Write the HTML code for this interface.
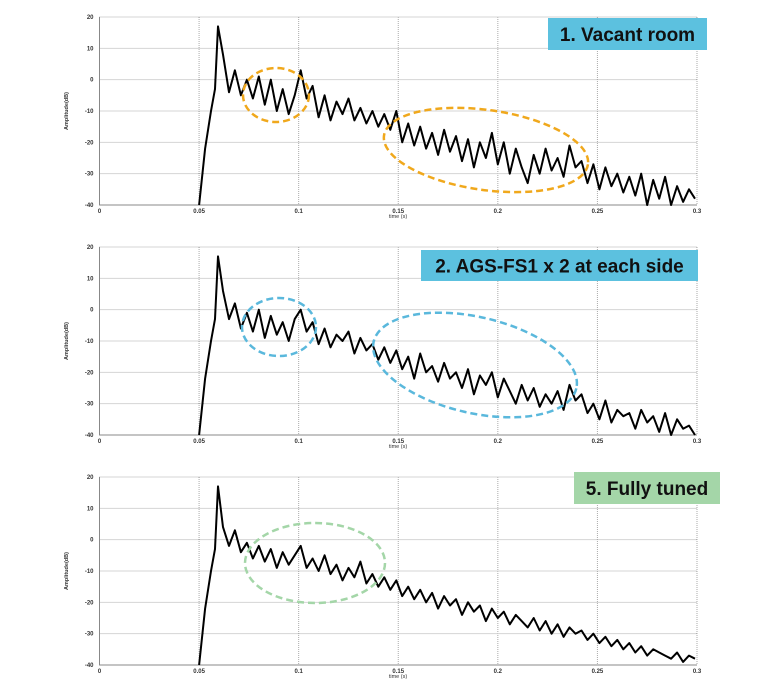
<!DOCTYPE html>
<html><head><meta charset="utf-8"><style>
body{margin:0;background:#fff;width:769px;height:691px;overflow:hidden}
svg{display:block}
</style></head><body>
<svg id="c" width="769" height="691" xmlns="http://www.w3.org/2000/svg"></svg>
<script>
const xTicks=[0,0.05,0.1,0.15,0.2,0.25,0.3];
const xTickLabels=["0","0.05","0.1","0.15","0.2","0.25","0.3"];
const yTicks=[20,10,0,-10,-20,-30,-40];
const riseTimes=[0.05,0.053,0.056,0.058,0.0595];
const riseValues=[-40,-22,-10,-3,17];
const tailStart=0.062, tailStep=0.003;
const series1=[8,-4,3,-5,0,-6,1,-8,0,-10,-3,-11,-5,3,-6,-2,-12,-5,-13,-7,-11,-6,-13,-9,-14,-10,-15,-11,-16,-10,-20,-14,-21,-15,-22,-17,-24,-16,-23,-18,-26,-19,-28,-20,-25,-17,-27,-20,-30,-22,-28,-33,-24,-30,-22,-29,-25,-31,-21,-28,-26,-33,-27,-35,-28,-34,-30,-36,-31,-37,-30,-40,-32,-38,-31,-40,-34,-39,-35,-38];
const series2=[6,-3,2,-6,-1,-7,0,-9,-2,-8,-4,-10,-3,0,-7,-4,-11,-6,-12,-8,-10,-7,-14,-9,-13,-11,-16,-12,-17,-13,-19,-15,-22,-14,-20,-18,-23,-17,-22,-20,-25,-19,-27,-21,-24,-20,-28,-22,-26,-30,-24,-29,-25,-31,-27,-30,-26,-32,-24,-29,-27,-33,-30,-35,-29,-36,-32,-34,-33,-38,-32,-36,-34,-39,-33,-40,-35,-38,-37,-40];
const series3=[4,-2,3,-4,-1,-6,-2,-7,-3,-9,-4,-8,-5,-2,-9,-6,-10,-5,-11,-8,-13,-9,-12,-7,-14,-11,-15,-12,-16,-13,-18,-15,-19,-16,-20,-17,-22,-18,-21,-19,-24,-20,-23,-21,-26,-22,-25,-23,-27,-24,-26,-28,-25,-29,-26,-30,-27,-31,-28,-30,-29,-32,-30,-33,-31,-34,-32,-35,-33,-36,-34,-37,-35,-36,-37,-38,-36,-39,-37,-38];
const panels=[
 {off:0,data:series1,label:"1. Vacant room",box:[548,18,159,32],fill:"#5cc1df",ell:[[276,95,33,27,0,"#f0a81c"],[486,150,103,40,8,"#f0a81c"]]},
 {off:230,data:series2,label:"2. AGS-FS1 x 2 at each side",box:[421,250,277,31],fill:"#5cc1df",ell:[[279,327,37,29,0,"#5ab8dc"],[475,365,104,48,13,"#5ab8dc"]]},
 {off:460,data:series3,label:"5. Fully tuned",box:[574,472,146,32],fill:"#a4d6a8",ell:[[315,563,70,40,0,"#a4d6a8"]]}
];
const svg=document.getElementById('c');
const NS="http://www.w3.org/2000/svg";
function mk(tag,attrs,parent){const e=document.createElementNS(NS,tag);for(const k in attrs)e.setAttribute(k,attrs[k]);(parent||svg).appendChild(e);return e;}
const X0=99.5,X1=697,YT=17,YB=205;
const xs=t=>X0+(t/0.3)*(X1-X0);
panels.forEach((p,pi)=>{
 const ys=v=>p.off+YT+(20-v)/60*(YB-YT);
 const g=mk('g',{});
 
 
 yTicks.forEach(v=>{
  const l=mk('line',{x1:X0,x2:X1,y1:ys(v),y2:ys(v),stroke:'#aaa','stroke-width':1,'stroke-dasharray':'1,1'},g);
  
  
  const t=mk('text',{x:X0-6,y:ys(v)+2,'font-size':6,'text-anchor':'end','font-family':'Liberation Sans, sans-serif','font-weight':'bold',fill:'#333'},g);
  t.textContent=String(v);
  
  
 });
 xTicks.forEach((v,i)=>{
  const l=mk('line',{x1:xs(v),x2:xs(v),y1:ys(20),y2:ys(-40),stroke:'#aaa','stroke-width':1,'stroke-dasharray':'1,1'},g);
  
  
  const t=mk('text',{x:xs(v),y:ys(-40)+8,'font-size':6,'text-anchor':'middle','font-family':'Liberation Sans, sans-serif','font-weight':'bold',fill:'#333'},g);
  t.textContent=xTickLabels[i];
  
  
 });
 const ax=mk('path',{d:`M${X0},${ys(20)}V${ys(-40)}H${X1}`,fill:'none',stroke:'#888','stroke-width':1},g);
 
 
 const xl=mk('text',{x:398,y:ys(-40)+13,'font-size':5.5,'text-anchor':'middle','font-family':'Liberation Sans, sans-serif',fill:'#333'},g);
 xl.textContent='time (s)';
 
 
 const yl=mk('text',{x:0,y:0,'font-size':5.5,'text-anchor':'middle','font-family':'Liberation Sans, sans-serif','font-weight':'bold',fill:'#333',transform:`translate(68,${ys(-10)}) rotate(-90)`},g);
 yl.textContent='Amplitude(dB)';
 
 
 let pts=riseTimes.map((t,i)=>[xs(t),ys(riseValues[i])]);
 p.data.forEach((v,i)=>pts.push([xs(tailStart+i*tailStep),ys(Math.max(-40,v))]));
 const ln=mk('polyline',{points:pts.map(q=>q[0].toFixed(1)+','+q[1].toFixed(1)).join(' '),fill:'none',stroke:'#000','stroke-width':2,'stroke-linejoin':'round'},g);
 
 
 p.ell.forEach(e=>{
  const el=mk('ellipse',{cx:e[0],cy:e[1],rx:e[2],ry:e[3],fill:'none',stroke:e[5],'stroke-width':2.5,'stroke-dasharray':'7,4',transform:`rotate(${e[4]} ${e[0]} ${e[1]})`},g);
  
  
 });
 const b=p.box;
 const r=mk('rect',{x:b[0],y:b[1],width:b[2],height:b[3],fill:p.fill},g);
 
 
 const bt=mk('text',{x:b[0]+b[2]/2,y:b[1]+b[3]/2+7,'font-size':19,'text-anchor':'middle','font-family':'Liberation Sans, sans-serif','font-weight':'bold',fill:'#111'},g);
 bt.textContent=p.label;
 
 
});
</script>
</body></html>
